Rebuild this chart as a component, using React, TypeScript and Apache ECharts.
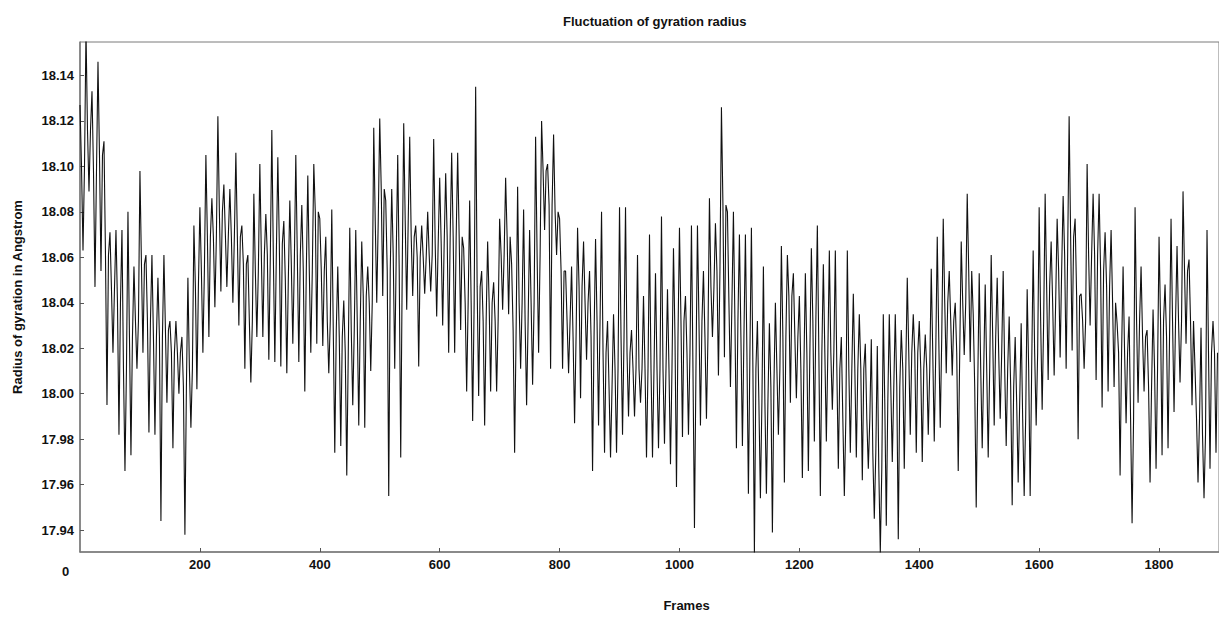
import React, { useEffect, useRef } from "react";
import * as echarts from "echarts";

// Radius of gyration, in 10-frame bins:
// the upper extreme, the lower extreme and the dense core level of each bin.
const binHighs = [
  18.127, 18.160, 18.133, 18.146, 18.111, 18.071, 18.072, 18.072, 18.080, 18.056,
  18.098, 18.061, 18.061, 18.051, 18.061, 18.032, 18.032, 18.025, 18.051, 18.074,
  18.082, 18.105, 18.086, 18.122, 18.092, 18.090, 18.106, 18.074, 18.061, 18.088,
  18.101, 18.079, 18.116, 18.104, 18.076, 18.085, 18.105, 18.083, 18.096, 18.101,
  18.077, 18.069, 18.081, 18.056, 18.041, 18.073, 18.072, 18.067, 18.056, 18.117,
  18.121, 18.085, 18.090, 18.105, 18.119, 18.113, 18.074, 18.074, 18.080, 18.112,
  18.095, 18.097, 18.106, 18.106, 18.064, 18.085, 18.135, 18.054, 18.067, 18.049,
  18.077, 18.095, 18.057, 18.091, 18.081, 18.072, 18.113, 18.120, 18.101, 18.114,
  18.077, 18.054, 18.056, 18.073, 18.067, 18.054, 18.068, 18.080, 18.032, 18.035,
  18.082, 18.082, 18.028, 18.061, 18.043, 18.070, 18.053, 18.078, 18.046, 18.064,
  18.073, 18.043, 18.074, 18.074, 18.054, 18.086, 18.075, 18.126, 18.080, 18.080,
  18.070, 18.070, 18.073, 18.032, 18.056, 18.031, 18.040, 18.065, 18.061, 18.053,
  18.043, 18.053, 18.064, 18.074, 18.057, 18.063, 18.063, 18.025, 18.063, 18.044,
  18.035, 18.022, 18.024, 18.021, 18.035, 18.035, 18.035, 18.028, 18.051, 18.035,
  18.032, 18.026, 18.055, 18.069, 18.077, 18.054, 18.040, 18.067, 18.088, 18.035,
  18.053, 18.048, 18.061, 18.051, 18.054, 18.034, 18.025, 18.031, 18.046, 18.063,
  18.082, 18.088, 18.067, 18.077, 18.087, 18.122, 18.077, 18.044, 18.101, 18.088,
  18.088, 18.071, 18.072, 18.031, 18.056, 18.034, 18.082, 18.056, 18.028, 18.037,
  18.069, 18.048, 18.077, 18.065, 18.089, 18.059, 18.011, 18.029, 18.072, 18.032,
];

const binLows = [
  18.063, 18.089, 18.047, 18.054, 17.995, 18.018, 17.982, 17.966, 17.973, 18.011,
  18.018, 17.983, 17.982, 17.944, 17.996, 17.976, 18.000, 17.938, 17.985, 18.002,
  18.018, 18.025, 18.038, 18.045, 18.047, 18.040, 18.030, 18.011, 18.005, 18.025,
  18.025, 18.015, 18.014, 18.012, 18.009, 18.022, 18.014, 18.001, 18.018, 18.022,
  18.021, 18.009, 17.974, 17.977, 17.964, 17.995, 17.986, 17.985, 18.010, 18.040,
  18.043, 17.955, 18.011, 17.972, 18.037, 18.043, 18.012, 18.044, 18.045, 18.034,
  18.030, 18.018, 18.018, 18.028, 18.001, 17.988, 17.999, 17.986, 18.001, 18.001,
  18.037, 18.035, 17.974, 18.011, 17.995, 18.004, 18.018, 18.072, 18.011, 18.061,
  18.011, 18.009, 17.987, 17.998, 18.015, 17.966, 17.986, 17.974, 17.972, 17.974,
  17.982, 17.990, 17.990, 17.996, 17.972, 17.972, 17.976, 17.978, 17.969, 17.959,
  17.981, 17.982, 17.941, 17.986, 17.989, 18.025, 18.008, 18.016, 18.003, 17.976,
  17.977, 17.956, 17.930, 17.954, 17.956, 17.939, 17.982, 17.961, 17.996, 17.998,
  17.963, 17.966, 17.979, 17.955, 17.979, 17.993, 17.967, 17.955, 17.974, 17.972,
  17.962, 17.967, 17.945, 17.930, 17.942, 17.970, 17.936, 17.967, 17.982, 17.974,
  17.970, 17.982, 17.979, 17.985, 18.009, 18.008, 17.966, 18.017, 18.014, 17.950,
  17.976, 17.972, 17.986, 17.989, 17.977, 17.951, 17.961, 17.955, 17.955, 17.986,
  17.993, 18.006, 18.008, 18.016, 18.011, 18.019, 17.980, 18.011, 18.030, 18.006,
  17.994, 18.001, 18.003, 17.964, 17.987, 17.943, 17.996, 18.001, 17.961, 17.967,
  17.973, 17.976, 17.992, 18.005, 18.022, 17.995, 17.961, 17.954, 17.967, 17.974,
];

const binMids = [
  18.100, 18.116, 18.098, 18.105, 18.061, 18.046, 18.040, 18.011, 18.025, 18.032,
  18.057, 18.032, 18.025, 18.025, 18.028, 18.018, 18.018, 18.003, 18.011, 18.047,
  18.054, 18.069, 18.069, 18.080, 18.070, 18.069, 18.069, 18.057, 18.032, 18.054,
  18.061, 18.061, 18.061, 18.066, 18.050, 18.057, 18.061, 18.054, 18.054, 18.080,
  18.054, 18.032, 18.028, 18.025, 18.018, 18.028, 18.032, 18.043, 18.040, 18.076,
  18.090, 18.054, 18.061, 18.054, 18.076, 18.069, 18.060, 18.060, 18.061, 18.066,
  18.066, 18.069, 18.069, 18.069, 18.040, 18.040, 18.047, 18.032, 18.040, 18.032,
  18.061, 18.069, 18.028, 18.040, 18.032, 18.040, 18.061, 18.098, 18.083, 18.080,
  18.054, 18.032, 18.025, 18.047, 18.040, 18.025, 18.032, 18.018, 18.003, 18.011,
  18.025, 18.018, 18.011, 18.011, 18.011, 18.011, 18.011, 18.011, 18.011, 18.025,
  18.032, 18.018, 18.011, 18.032, 18.025, 18.047, 18.054, 18.083, 18.040, 18.032,
  18.025, 18.018, 18.011, 17.996, 17.996, 18.003, 18.011, 18.025, 18.043, 18.025,
  18.011, 18.018, 18.032, 18.018, 18.018, 18.018, 18.011, 17.989, 18.011, 18.011,
  18.011, 17.989, 17.974, 17.967, 17.996, 18.003, 18.003, 18.011, 18.018, 18.018,
  18.011, 18.011, 18.018, 18.025, 18.040, 18.032, 18.018, 18.040, 18.054, 18.003,
  18.011, 18.011, 18.025, 18.018, 18.011, 18.003, 17.996, 17.989, 18.011, 18.018,
  18.032, 18.047, 18.040, 18.054, 18.061, 18.069, 18.043, 18.032, 18.061, 18.061,
  18.054, 18.047, 18.040, 18.018, 18.018, 17.989, 18.032, 18.025, 18.003, 18.011,
  18.032, 18.025, 18.032, 18.032, 18.054, 18.032, 17.989, 17.982, 18.018, 18.018,
];

const binFrames = 10; // frames per bin
const xTickValues = [200, 400, 600, 800, 1000, 1200, 1400, 1600, 1800];
const yTickValues = [17.94, 17.96, 17.98, 18.0, 18.02, 18.04, 18.06, 18.08, 18.1, 18.12, 18.14];
const xMin = 0;
const xMax = 1900;
const yMin = 17.9304;
const yMax = 18.1547;

const FONT = '"Liberation Sans", Arial, Helvetica, sans-serif';

export default function App() {
  const ref = useRef<HTMLDivElement>(null);

  useEffect(() => {
    if (!ref.current) return;
    const chart = echarts.init(ref.current, null, { renderer: "svg" });

    // Each bin: high -> core -> low -> core, spread over the bin's frames.
    const data: [number, number][] = [];
    binHighs.forEach((h, i) => {
      const f = i * binFrames;
      data.push([f, h]);
      data.push([f + binFrames * 0.25, binMids[i]]);
      data.push([f + binFrames * 0.5, binLows[i]]);
      data.push([f + binFrames * 0.75, binMids[i]]);
    });

    const labelStyle = {
      fontFamily: FONT,
      fontWeight: "bold" as const,
      fontSize: 13,
      color: "#111",
    };

    chart.setOption({
      animation: false,
      backgroundColor: "#ffffff",
      title: {
        text: "Fluctuation of gyration radius",
        left: 563,
        top: 15,
        padding: 0,
        textStyle: { ...labelStyle, fontSize: 13 },
      },
      grid: {
        left: 80,
        top: 42,
        width: 1142,
        height: 514,
        show: true,
        borderColor: "#7a7a7a",
        borderWidth: 1,
        containLabel: false,
      },
      xAxis: {
        type: "value",
        min: xMin,
        max: xMax,
        name: "Frames",
        nameLocation: "middle",
        nameGap: 47,
        nameTextStyle: { ...labelStyle, padding: [0, 0, 0, 74] },
        axisLine: { show: true, lineStyle: { color: "#7a7a7a", width: 1.5 } },
        axisTick: {
          show: true,
          inside: true,
          length: 4,
          customValues: xTickValues,
          lineStyle: { color: "#555" },
        },
        axisLabel: {
          ...labelStyle,
          margin: 6,
          customValues: xTickValues,
          formatter: (v: number) => String(v),
        },
        splitLine: { show: false },
      },
      yAxis: {
        type: "value",
        min: yMin,
        max: yMax,
        name: "Radius of gyration in Angstrom",
        nameLocation: "middle",
        nameGap: 56,
        nameRotate: 90,
        nameTextStyle: { ...labelStyle },
        axisLine: { show: true, lineStyle: { color: "#7a7a7a", width: 1.5 } },
        axisTick: {
          show: true,
          inside: true,
          length: 4,
          customValues: yTickValues,
          lineStyle: { color: "#555" },
        },
        axisLabel: {
          ...labelStyle,
          margin: 6,
          customValues: yTickValues,
          formatter: (v: number) => v.toFixed(2),
        },
        splitLine: { show: false },
      },
      graphic: [
        {
          type: "text",
          left: 62,
          top: 565,
          style: {
            text: "0",
            fontFamily: FONT,
            fontWeight: "bold",
            fontSize: 13,
            fill: "#111",
          },
        },
      ],
      series: [
        {
          type: "line",
          data,
          showSymbol: false,
          symbol: "none",
          clip: true,
          lineStyle: { color: "#111", width: 1.1 },
          emphasis: { disabled: true },
        },
      ],
    });

    return () => chart.dispose();
  }, []);

  return (
    <div
      ref={ref}
      style={{ position: "fixed", left: 0, top: 0, width: 1219, height: 617, background: "#fff" }}
    />
  );
}
